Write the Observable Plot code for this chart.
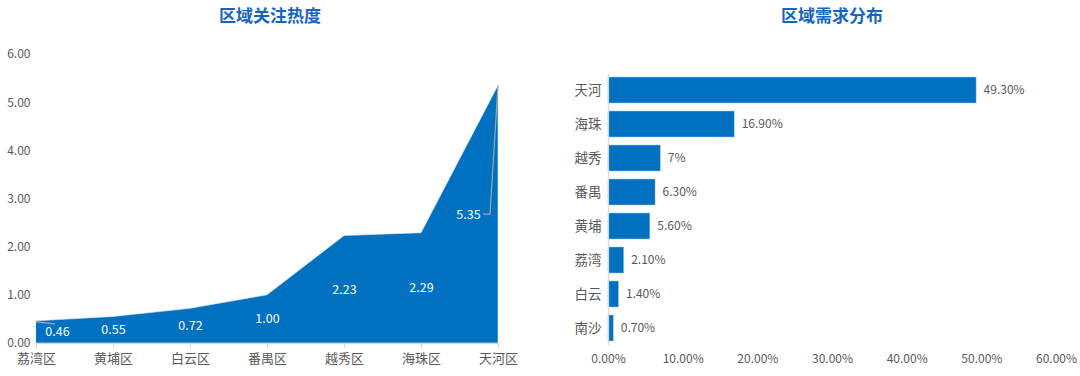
<!DOCTYPE html>
<html>
<head>
<meta charset="utf-8">
<script src="https://cdn.jsdelivr.net/npm/d3@7"></script>
<script src="https://cdn.jsdelivr.net/npm/@observablehq/plot@0.6"></script>
<style>
  html, body { margin: 0; padding: 0; background: #fff; }
  body { width: 1080px; height: 376px; position: relative; overflow: hidden;
         font-family: "Noto Sans CJK SC", "Noto Sans", sans-serif; }
  .panel { position: absolute; top: 0; width: 540px; height: 376px; }
  .title { position: absolute; top: 3px; left: 0; width: 540px; text-align: center;
           font-size: 17px; font-weight: bold; color: #1565C0; line-height: 24px; }
  .panel svg { position: absolute; left: 0; top: 0; }
</style>
</head>
<body>
<div class="panel" id="left"><div class="title">区域关注热度</div></div>
<div class="panel" id="right" style="left:540px"><div class="title" style="left:22px">区域需求分布</div></div>
<script>
// ---- Left chart: 区域关注热度 ----
const heatDistricts = ["荔湾区", "黄埔区", "白云区", "番禺区", "越秀区", "海珠区", "天河区"];
const heatValues = [0.46, 0.55, 0.72, 1.00, 2.23, 2.29, 5.35];
const heatTicks = [0, 1, 2, 3, 4, 5, 6];

// ---- Right chart: 区域需求分布 ----
const demandDistricts = ["天河", "海珠", "越秀", "番禺", "黄埔", "荔湾", "白云", "南沙"];
const demandValues = [49.3, 16.9, 7, 6.3, 5.6, 2.1, 1.4, 0.7];
const demandLabels = ["49.30%", "16.90%", "7%", "6.30%", "5.60%", "2.10%", "1.40%", "0.70%"];
const demandTicks = [0, 10, 20, 30, 40, 50, 60];

const BLUE = "#0070C0";
const GREY_TEXT = "#595959";
const AXIS = "#D9D9D9";

const heat = heatDistricts.map((d, i) => ({district: d, value: heatValues[i], idx: i}));
const demand = demandDistricts.map((d, i) => ({district: d, value: demandValues[i], label: demandLabels[i]}));
const lastIdx = heat.length - 1;

// custom leader lines using the plot's scales
function leaders(index, scales, values, dims) {
  const ns = "http://www.w3.org/2000/svg";
  const g = document.createElementNS(ns, "g");
  const first = heat[0], last = heat[lastIdx];
  const x0 = scales.x(first.district), x1 = scales.x(last.district);
  const p1 = document.createElementNS(ns, "path");
  p1.setAttribute("d", `M${x0},${scales.y(first.value) + 1}L${x0 + 19},${scales.y(first.value) + 3}`);
  const p2 = document.createElementNS(ns, "path");
  const ym = scales.y(last.value / 2);
  p2.setAttribute("d", `M${x1},${scales.y(last.value)}L${x1 - 8},${ym}L${x1 - 15},${ym}`);
  for (const p of [p1, p2]) {
    p.setAttribute("fill", "none");
    p.setAttribute("stroke", "#A6A6A6");
    p.setAttribute("stroke-width", 1.2);
    g.appendChild(p);
  }
  return g;
}

const labelOpts = {x: "district", y: d => d.value / 2, text: d => d.value.toFixed(2), fill: "white", fontSize: 12.5};

const left = Plot.plot({
  width: 540,
  height: 376,
  marginTop: 54,
  marginBottom: 33,
  marginLeft: 36,
  marginRight: 42,
  style: {fontFamily: "'Noto Sans CJK SC', sans-serif", background: "transparent"},
  x: {type: "point", domain: heatDistricts, padding: 0, label: null},
  y: {domain: [0, 6], label: null},
  marks: [
    Plot.areaY(heat, {x: "district", y: "value", fill: BLUE, stroke: "#e8eef6", strokeWidth: 0.6}),
    Plot.ruleY([0], {stroke: AXIS, strokeWidth: 1}),
    Plot.axisY({ticks: heatTicks, tickFormat: d => d.toFixed(2), tickSize: 0, tickPadding: 6,
                fontSize: 12, fill: GREY_TEXT, label: null}),
    Plot.axisX({tickSize: 5, stroke: AXIS, tickPadding: 5, fontSize: 13, fill: GREY_TEXT, label: null}),
    leaders,
    Plot.text(heat.filter(d => d.idx === 0), {...labelOpts, dx: 21}),
    Plot.text(heat.filter(d => d.idx > 0 && d.idx < lastIdx), labelOpts),
    Plot.text(heat.filter(d => d.idx === lastIdx), {...labelOpts, dx: -30})
  ]
});
document.getElementById("left").appendChild(left);

const right = Plot.plot({
  width: 540,
  height: 376,
  marginTop: 74,
  marginBottom: 31,
  marginLeft: 68,
  marginRight: 24,
  style: {fontFamily: "'Noto Sans CJK SC', sans-serif", background: "transparent"},
  x: {domain: [0, 60], label: null},
  y: {domain: demandDistricts, label: null, paddingInner: 0.23, paddingOuter: 0.08},
  marks: [
    Plot.barX(demand, {x: "value", y: "district", fill: BLUE, stroke: "#9DC3E6", strokeWidth: 0.5}),
    Plot.ruleX([0], {stroke: AXIS, strokeWidth: 1.2}),
    Plot.axisY({tickSize: 0, tickPadding: 7, fontSize: 13.5, fill: GREY_TEXT, label: null}),
    Plot.axisX({ticks: demandTicks, tickFormat: d => d.toFixed(2) + "%", tickSize: 0, tickPadding: 9,
                fontSize: 12, fill: GREY_TEXT, label: null}),
    Plot.text(demand, {x: "value", y: "district", text: "label", textAnchor: "start", dx: 7,
                       fontSize: 12, fill: GREY_TEXT})
  ]
});
document.getElementById("right").appendChild(right);
</script>
</body>
</html>
